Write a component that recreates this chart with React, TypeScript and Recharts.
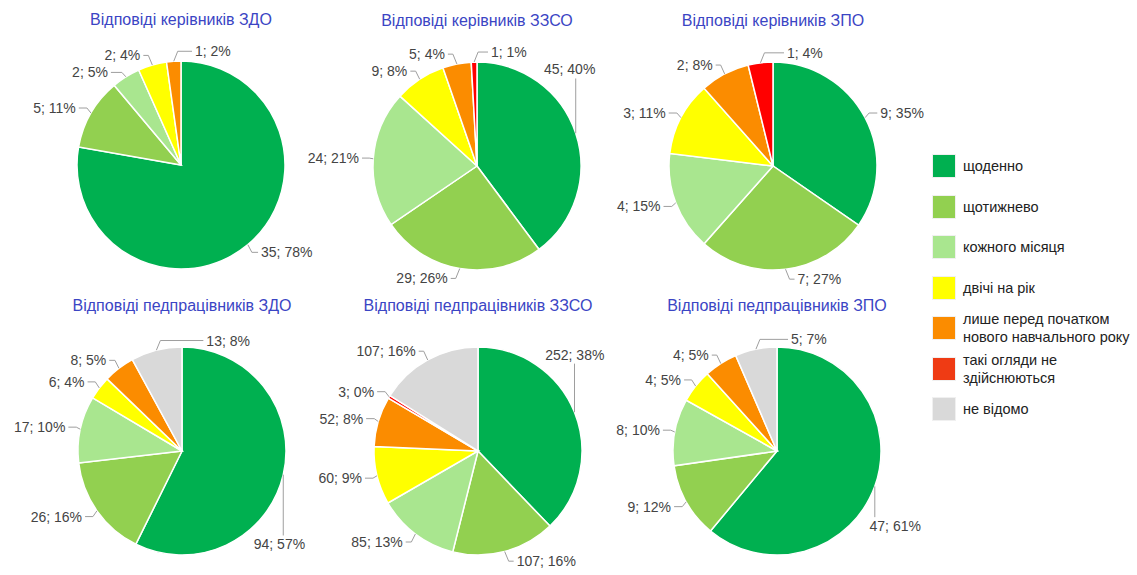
import { PieChart, Pie, Cell } from 'recharts'

const W = 1137
const H = 575
const FONT = 'Arial, "Liberation Sans", sans-serif'

const categories = [
  'щоденно',
  'щотижнево',
  'кожного місяця',
  'двічі на рік',
  'лише перед початком\nнового навчального року',
  'такі огляди не\nздійснюються',
  'не відомо',
]
const sliceColors = ['#00b050', '#92d050', '#a9e68f', '#ffff00', '#fb8c00', '#ff0000', '#d9d9d9']
const legendColors = ['#00b050', '#92d050', '#a9e68f', '#ffff00', '#fb8c00', '#ef3b14', '#d9d9d9']

// counts and the percentages as printed on the chart (order follows categories)
const headsZdo = [35, 5, 2, 2, 1, 0, 0]
const headsZdoPct = [78, 11, 5, 4, 2, 0, 0]
const headsZzso = [45, 29, 24, 9, 5, 1, 0]
const headsZzsoPct = [40, 26, 21, 8, 4, 1, 0]
const headsZpo = [9, 7, 4, 3, 2, 1, 0]
const headsZpoPct = [35, 27, 15, 11, 8, 4, 0]
const staffZdo = [94, 26, 17, 6, 8, 0, 13]
const staffZdoPct = [57, 16, 10, 4, 5, 0, 8]
const staffZzso = [252, 107, 85, 60, 52, 3, 107]
const staffZzsoPct = [38, 16, 13, 9, 8, 0, 16]
const staffZpo = [47, 9, 8, 4, 4, 0, 5]
const staffZpoPct = [61, 12, 10, 5, 5, 0, 7]

const panels = [
  { title: 'Відповіді керівників ЗДО', values: headsZdo, pct: headsZdoPct, cx: 181, cy: 165, lo: 4, hi: 330 },
  { title: 'Відповіді керівників ЗЗСО', values: headsZzso, pct: headsZzsoPct, cx: 477, cy: 166, lo: 298, hi: 603 },
  { title: 'Відповіді керівників ЗПО', values: headsZpo, pct: headsZpoPct, cx: 773, cy: 166, lo: 610, hi: 930 },
  { title: 'Відповіді педпрацівників ЗДО', values: staffZdo, pct: staffZdoPct, cx: 182, cy: 451, lo: 4, hi: 312 },
  { title: 'Відповіді педпрацівників ЗЗСО', values: staffZzso, pct: staffZzsoPct, cx: 478, cy: 451, lo: 310, hi: 612 },
  { title: 'Відповіді педпрацівників ЗПО', values: staffZpo, pct: staffZpoPct, cx: 777, cy: 451, lo: 610, hi: 925 },
]

const R = 104
const GAP = 14
const SPACING = 17
const LABEL_SIZE = 14

type Row = { name: string; value: number; label: string; color: string }
type Slot = { side: number; y: number; x: number; moved: boolean }

let measureCtx: CanvasRenderingContext2D | null = null
function textWidth(s: string) {
  if (!measureCtx) {
    measureCtx = document.createElement('canvas').getContext('2d')
    if (measureCtx) measureCtx.font = `${LABEL_SIZE}px Arial, "Liberation Sans"`
  }
  return measureCtx ? measureCtx.measureText(s).width : s.length * 7.5
}

function buildRows(values: number[], pct: number[]): Row[] {
  return values
    .map((v, i) => ({ name: categories[i], value: v, label: `${v}; ${pct[i]}%`, color: sliceColors[i] }))
    .filter((r) => r.value > 0)
}

// rough copy of how the original tool spreads outside labels around a pie
function layoutLabels(rows: Row[], cx: number, cy: number, r: number, lo: number, hi: number): Slot[] {
  const total = rows.reduce((s, d) => s + d.value, 0)
  const halfw = (yy: number) => {
    const d = Math.abs(yy - cy)
    return d < r ? Math.sqrt(r * r - d * d) : 0
  }
  let acc = 0
  const items = rows.map((row, i) => {
    const a0 = (acc / total) * 360
    acc += row.value
    const a1 = (acc / total) * 360
    const midDeg = (a0 + a1) / 2
    const m = (midDeg * Math.PI) / 180
    const s = Math.sin(m)
    const c = Math.cos(m)
    let side = s >= 0 ? 1 : -1
    if (i === rows.length - 1 && midDeg >= 340) side = 1
    const ax = cx + r * s
    const ay = cy - r * c
    let y = cy - (r + 10) * c
    const tw = textWidth(row.label)
    const room = side > 0 ? hi - cx - GAP - tw : cx - lo - GAP - tw
    let moved = false
    if (halfw(y) > room) {
      // no room beside the pie: slide the label up or down along the rim
      const need = Math.sqrt(Math.max(0, r * r - Math.max(0, room) ** 2)) + 12
      y = cy + (ay >= cy ? 1 : -1) * Math.max(need, Math.abs(y - cy))
      moved = true
    }
    return { side, y, tw, ax, moved, x: 0 }
  })
  const top = cy - r - 18
  const bottom = cy + r + 18
  for (const side of [-1, 1]) {
    const list = items.filter((it) => it.side === side).sort((a, b) => a.y - b.y)
    for (let k = 1; k < list.length; k++) {
      if (list[k].y < list[k - 1].y + SPACING) list[k].y = list[k - 1].y + SPACING
    }
    if (list.length && list[list.length - 1].y > bottom) list[list.length - 1].y = bottom
    for (let k = list.length - 2; k >= 0; k--) {
      if (list[k].y > list[k + 1].y - SPACING) list[k].y = list[k + 1].y - SPACING
    }
    if (list.length && list[0].y < top) {
      list[0].y = top
      for (let k = 1; k < list.length; k++) {
        if (list[k].y < list[k - 1].y + SPACING) list[k].y = list[k - 1].y + SPACING
      }
    }
  }
  for (const it of items) {
    // keep the inner half of the text clear of the rim
    const near = it.y + (it.y < cy ? 7 : -7)
    let x = cx + it.side * (halfw(near) + GAP)
    if (!it.moved) x = it.side > 0 ? Math.max(x, it.ax + 12) : Math.min(x, it.ax - 12)
    x = it.side > 0 ? Math.min(x, hi - it.tw) : Math.max(x, lo + it.tw)
    it.x = x
  }
  return items.map((it) => ({ side: it.side, y: it.y, x: it.x, moved: it.moved }))
}

const RAD = Math.PI / 180

function makeLabel(rows: Row[], slots: Slot[]) {
  return (props: any) => {
    const { cx, cy, midAngle, outerRadius, index } = props
    const slot = slots[index]
    const row = rows[index]
    if (!slot || !row) return null
    const ax = cx + outerRadius * Math.cos(-midAngle * RAD)
    const ay = cy + outerRadius * Math.sin(-midAngle * RAD)
    let d: string
    if (slot.moved) {
      const end = slot.y + (ay > slot.y ? 9 : -9)
      d = `M${ax},${ay}L${ax},${end}`
    } else {
      const tip = slot.x - slot.side * 3
      const ex = slot.side > 0 ? Math.min(ax + 4, tip) : Math.max(ax - 4, tip)
      d = `M${ax},${ay}L${ex},${slot.y}L${tip},${slot.y}`
    }
    return (
      <g key={`lbl-${index}`}>
        <path d={d} stroke='#9e9e9e' strokeWidth={1} fill='none' />
        <text
          x={slot.x}
          y={slot.y}
          textAnchor={slot.side > 0 ? 'start' : 'end'}
          dominantBaseline='central'
          fontSize={LABEL_SIZE}
          fontFamily={FONT}
          fill='#444'
        >
          {row.label}
        </text>
      </g>
    )
  }
}

export default function App() {
  const prepared = panels.map((p) => {
    const rows = buildRows(p.values, p.pct)
    const slots = layoutLabels(rows, p.cx, p.cy, R, p.lo, p.hi)
    return { ...p, rows, slots }
  })

  return (
    <div
      style={{
        position: 'fixed',
        left: 0,
        top: 0,
        width: W,
        height: H,
        background: '#fff',
        fontFamily: FONT,
        overflow: 'hidden',
      }}
    >
      <PieChart width={W} height={H} margin={{ top: 0, right: 0, bottom: 0, left: 0 }}>
        {prepared.map((p, pi) => (
          <Pie
            key={pi}
            data={p.rows}
            dataKey='value'
            nameKey='name'
            cx={p.cx}
            cy={p.cy}
            outerRadius={R}
            startAngle={90}
            endAngle={-270}
            stroke='#fff'
            strokeWidth={1.5}
            isAnimationActive={false}
            labelLine={false}
            label={makeLabel(p.rows, p.slots)}
          >
            {p.rows.map((row, i) => (
              <Cell key={i} fill={row.color} />
            ))}
          </Pie>
        ))}
      </PieChart>

      {prepared.map((p, pi) => (
        <div
          key={`t-${pi}`}
          style={{
            position: 'absolute',
            left: p.cx - 160,
            width: 320,
            top: p.cy - 145 - 9,
            lineHeight: '18px',
            textAlign: 'center',
            fontSize: 16,
            color: '#3b45c4',
          }}
        >
          {p.title}
        </div>
      ))}

      {categories.map((c, i) => {
        const mid = 166 + i * 40.5
        return (
          <div
            key={`l-${i}`}
            style={{ position: 'absolute', left: 933, top: mid - 18, height: 36, display: 'flex', alignItems: 'center' }}
          >
            <div style={{ width: 22, height: 22, background: legendColors[i], boxShadow: '0 0 0 1px rgba(0,0,0,0.06)' }} />
            <div style={{ marginLeft: 8, fontSize: 14.5, lineHeight: '18px', color: '#222', whiteSpace: 'pre-line' }}>{c}</div>
          </div>
        )
      })}
    </div>
  )
}
